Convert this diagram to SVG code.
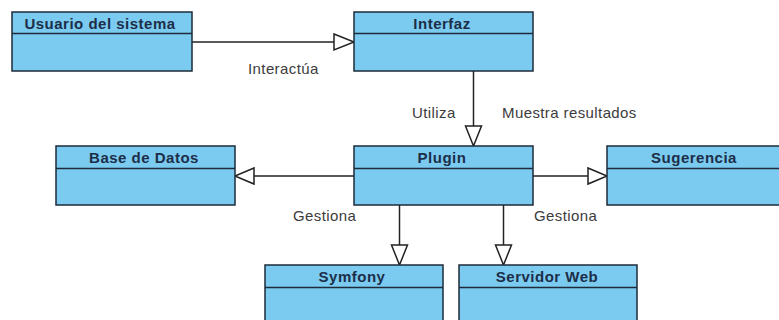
<svg xmlns="http://www.w3.org/2000/svg" width="779" height="320" viewBox="0 0 779 320">
<style>
.box{fill:#7BCAF0;stroke:#1E2B3A;stroke-width:1.5}
.div{stroke:#1E2B3A;stroke-width:1.5}
.hdr{font-family:"Liberation Sans",Arial,sans-serif;font-weight:bold;font-size:15px;letter-spacing:0.5px;fill:#1C2E48;text-anchor:middle}
.lbl{font-family:"Liberation Sans",Arial,sans-serif;font-size:15px;letter-spacing:0.4px;fill:#3C3C3C}
.ln{stroke:#222;stroke-width:1.5;fill:none}
.ah{fill:#FFFFFF;stroke:#222;stroke-width:1.5}
</style>
<rect width="779" height="320" fill="#FFFFFF"/>
<g id="connectors">
<line class="ln" x1="192" y1="42" x2="334" y2="42"/>
<polygon class="ah" points="334,34 354,42 334,50"/>
<line class="ln" x1="473.5" y1="71" x2="473.5" y2="126"/>
<polygon class="ah" points="465.5,126 481.5,126 473.5,146"/>
<line class="ln" x1="354" y1="176" x2="254" y2="176"/>
<polygon class="ah" points="254,168 235,176 254,184"/>
<line class="ln" x1="533" y1="176" x2="588" y2="176"/>
<polygon class="ah" points="588,168 607,176 588,184"/>
<line class="ln" x1="399.5" y1="205" x2="399.5" y2="245"/>
<polygon class="ah" points="391.5,245 407.5,245 399.5,265"/>
<line class="ln" x1="503.5" y1="205" x2="503.5" y2="245"/>
<polygon class="ah" points="495.5,245 511.5,245 503.5,265"/>
<text class="lbl" x="248" y="74">Interactúa</text>
<text class="lbl" x="412" y="118">Utiliza</text>
<text class="lbl" x="502" y="118">Muestra resultados</text>
<text class="lbl" x="293" y="221">Gestiona</text>
<text class="lbl" x="534" y="221">Gestiona</text>
</g>
<g id="usuario">
<rect class="box" x="12" y="12" width="180" height="59"/>
<line class="div" x1="12" y1="33.5" x2="192" y2="33.5"/>
<text class="hdr" x="100" y="28.5">Usuario del sistema</text>
</g>
<g id="interfaz">
<rect class="box" x="354" y="12" width="179" height="59"/>
<line class="div" x1="354" y1="33.5" x2="533" y2="33.5"/>
<text class="hdr" x="442" y="28.5">Interfaz</text>
</g>
<g id="base">
<rect class="box" x="56" y="146" width="179" height="59"/>
<line class="div" x1="56" y1="168.5" x2="235" y2="168.5"/>
<text class="hdr" x="144" y="163">Base de Datos</text>
</g>
<g id="plugin">
<rect class="box" x="354" y="146" width="179" height="59"/>
<line class="div" x1="354" y1="168.5" x2="533" y2="168.5"/>
<text class="hdr" x="442" y="163">Plugin</text>
</g>
<g id="sugerencia">
<rect class="box" x="607" y="146" width="180" height="59"/>
<line class="div" x1="607" y1="168.5" x2="787" y2="168.5"/>
<text class="hdr" x="694" y="163">Sugerencia</text>
</g>
<g id="symfony">
<rect class="box" x="265" y="265" width="178" height="70"/>
<line class="div" x1="265" y1="287.5" x2="443" y2="287.5"/>
<text class="hdr" x="352" y="282">Symfony</text>
</g>
<g id="servidor">
<rect class="box" x="459" y="265" width="178" height="70"/>
<line class="div" x1="459" y1="287.5" x2="637" y2="287.5"/>
<text class="hdr" x="547" y="282">Servidor Web</text>
</g>
</svg>
